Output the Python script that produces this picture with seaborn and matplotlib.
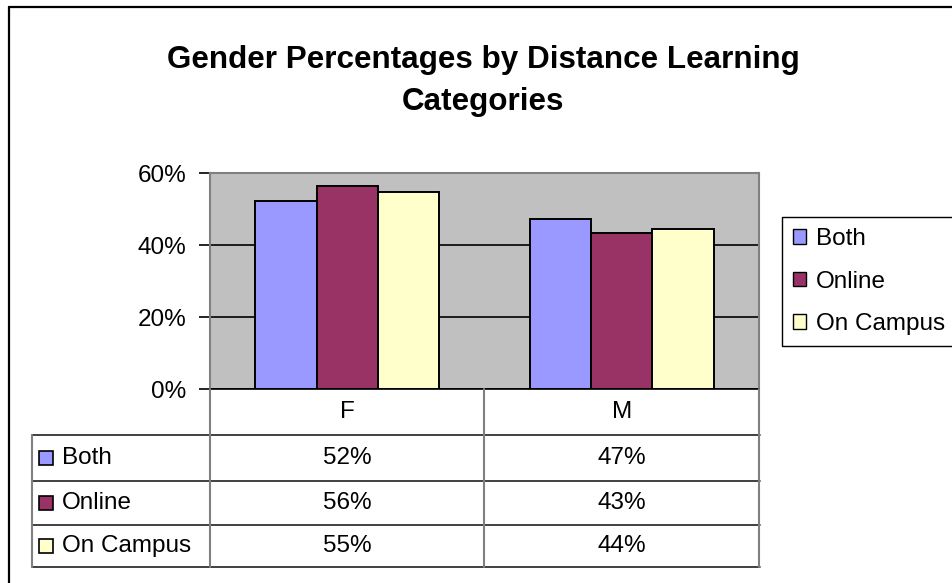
import numpy as np
import pandas as pd
import matplotlib
matplotlib.use("Agg")
import matplotlib.pyplot as plt
import matplotlib.transforms as mtransforms
from matplotlib.lines import Line2D
from matplotlib.patches import Patch, Rectangle
from matplotlib.ticker import PercentFormatter
import seaborn as sns

# Данные
genders = ["F", "M"]
modes = ["Both", "Online", "On Campus"]
both = [0.521, 0.471]
online = [0.563, 0.432]
on_campus = [0.548, 0.444]
colors = ["#9999FF", "#993366", "#FFFFCC"]
y_ticks = [0, 0.2, 0.4, 0.6]

df = pd.DataFrame({
    "Gender": genders * len(modes),
    "Mode": np.repeat(modes, len(genders)),
    "Pct": both + online + on_campus,
})

sns.set_theme(style="white")
plt.rcParams["font.family"] = ["Liberation Sans", "DejaVu Sans"]
plt.rcParams["text.color"] = "black"
plt.rcParams["ytick.color"] = "black"
plt.rcParams["ytick.labelcolor"] = "black"

FS = 17.5

W, H = 953, 583
fig = plt.figure(figsize=(W / 100, H / 100), dpi=100)


def fx(px):
    return px / W


def fy(py):
    return 1 - py / H


ax = fig.add_axes([fx(210), fy(389), fx(759) - fx(210), fy(173) - fy(389)])
sns.barplot(data=df, x="Gender", y="Pct", hue="Mode", order=genders, hue_order=modes,
            palette=colors, saturation=1, width=0.67, gap=0, errorbar=None,
            edgecolor="black", linewidth=1.4, legend=False, ax=ax)

# Оформление осей в стиле Excel
ax.set_facecolor("#C0C0C0")
ax.set_xlim(-0.5, 1.5)
ax.set_ylim(0, 0.6)
ax.set_yticks(y_ticks)
ax.yaxis.set_major_formatter(PercentFormatter(1.0, decimals=0))
ax.tick_params(axis="y", left=True, length=8, width=1.2, color="black",
               pad=9, labelsize=FS, labelcolor="black")
ax.tick_params(axis="x", bottom=False, labelbottom=False)
ax.set_xlabel("")
ax.set_ylabel("")
ax.yaxis.grid(True, color="black", linewidth=1.2)
ax.set_axisbelow(True)
for s in ["left", "top", "right"]:
    ax.spines[s].set_color("#808080")
    ax.spines[s].set_linewidth(1.5)
ax.spines["bottom"].set_color("black")
ax.spines["bottom"].set_linewidth(1.2)

# Заголовок
fig.text(fx(483), fy(81), "Gender Percentages by Distance Learning\nCategories",
         ha="center", va="center", fontsize=22.6, fontweight="bold",
         linespacing=1.5, color="black")

# Таблица данных под графиком
blend = mtransforms.blended_transform_factory(ax.transData, fig.transFigure)
rows_y = [389, 435, 481, 525, 567]
label_left = 32
table_right = 760

for y in rows_y[1:]:
    fig.add_artist(Line2D([fx(label_left), fx(table_right)], [fy(y), fy(y)],
                          transform=fig.transFigure, color="#202020", lw=1.2))
fig.add_artist(Line2D([fx(label_left), fx(label_left)], [fy(rows_y[1]), fy(rows_y[-1])],
                      transform=fig.transFigure, color="#808080", lw=1.5))
for xb in [-0.5, 0.5, 1.5]:
    fig.add_artist(Line2D([xb, xb], [fy(rows_y[0]), fy(rows_y[-1])],
                          transform=blend, color="#808080", lw=1.5))

for i, g in enumerate(genders):
    ax.text(i, fy((rows_y[0] + rows_y[1]) / 2), g, transform=blend,
            ha="center", va="center", fontsize=FS, color="black")

series = [both, online, on_campus]
for r, (mode, vals, c) in enumerate(zip(modes, series, colors)):
    yc = (rows_y[r + 1] + rows_y[r + 2]) / 2
    fig.add_artist(Rectangle((fx(39), fy(yc + 7)), 14 / W, 14 / H,
                             transform=fig.transFigure, facecolor=c,
                             edgecolor="black", lw=1.2))
    fig.text(fx(62), fy(yc), mode, ha="left", va="center", fontsize=FS, color="black")
    for i, v in enumerate(vals):
        ax.text(i, fy(yc), f"{v:.0%}", transform=blend,
                ha="center", va="center", fontsize=FS, color="black")

# Легенда
handles = [Patch(facecolor=c, edgecolor="black", label=m) for m, c in zip(modes, colors)]
fig.legend(handles=handles, loc="upper left", bbox_to_anchor=(fx(782), fy(217)),
           frameon=True, fancybox=False, edgecolor="black", framealpha=1,
           fontsize=FS, handlelength=0.55, handleheight=0.55, handletextpad=0.4,
           borderpad=0.45, labelspacing=0.85, borderaxespad=0, labelcolor="black")

# Рамка вокруг всей диаграммы
fig.add_artist(Line2D([fx(9), 1], [fy(7), fy(7)], transform=fig.transFigure,
                      color="black", lw=1.6))
fig.add_artist(Line2D([fx(9), fx(9)], [fy(7), 0], transform=fig.transFigure,
                      color="black", lw=1.6))

fig.savefig("out.png", dpi=100)
